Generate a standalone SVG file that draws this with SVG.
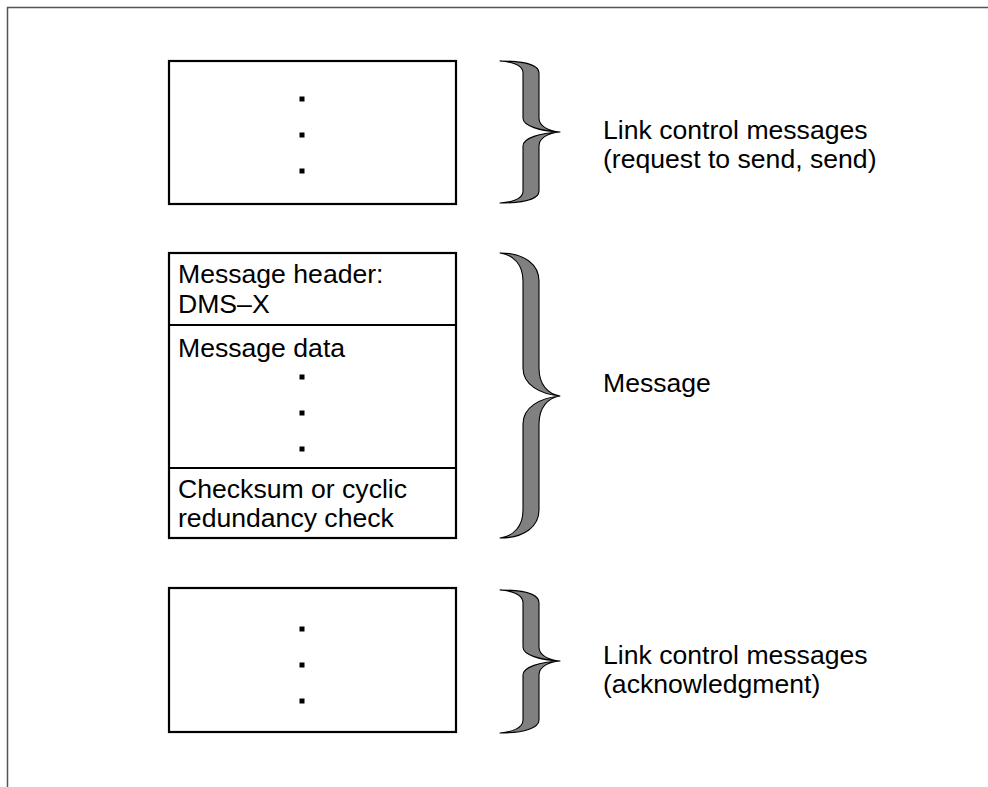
<svg xmlns="http://www.w3.org/2000/svg" width="988" height="787" viewBox="0 0 988 787">
<style>
.box{fill:#fff;stroke:#000;stroke-width:2.2}
.div{stroke:#000;stroke-width:2.2}
.dot{fill:#000}
.brace{fill:#808080;stroke:#000;stroke-width:1.1;stroke-linejoin:round}
.t{font-family:"Liberation Sans",Arial,sans-serif;font-size:26.6px;fill:#000}
.frame{fill:none;stroke:#555;stroke-width:1.5}
</style>
<rect width="988" height="787" fill="#fff"/>
<path class="frame" d="M7.5,787 L7.5,7.5 L988,7.5"/>
<g id="box-top">
<rect class="box" x="169" y="61" width="287" height="143"/>
<rect class="dot" x="299.5" y="96.5" width="5" height="5"/>
<rect class="dot" x="299.5" y="132.5" width="5" height="5"/>
<rect class="dot" x="299.5" y="168.5" width="5" height="5"/>
</g>
<g id="box-message">
<rect class="box" x="169" y="253" width="287" height="285"/>
<line class="div" x1="169" y1="325" x2="456" y2="325"/>
<line class="div" x1="169" y1="468" x2="456" y2="468"/>
<text class="t" x="178" y="283">Message header:</text>
<text class="t" x="178" y="313">DMS–X</text>
<text class="t" x="178" y="357">Message data</text>
<rect class="dot" x="299.5" y="374.5" width="5" height="5"/>
<rect class="dot" x="299.5" y="410.5" width="5" height="5"/>
<rect class="dot" x="299.5" y="446.5" width="5" height="5"/>
<text class="t" x="178" y="498">Checksum or cyclic</text>
<text class="t" x="178" y="527">redundancy check</text>
</g>
<g id="box-bottom">
<rect class="box" x="169" y="588" width="287" height="144"/>
<rect class="dot" x="299.5" y="626.5" width="5" height="5"/>
<rect class="dot" x="299.5" y="662.5" width="5" height="5"/>
<rect class="dot" x="299.5" y="698.5" width="5" height="5"/>
</g>
<g id="connectors">
<path class="brace" d="M500,61 C524,61 539,65 539,73 L539,118 C539,126 548,131 560,132 C548,133 539,138 539,146 L539,191 C539,199 524,203 500,203 C512,202 523,199 523,191 L523,146 C523,138 540,133 560,132 C540,131 523,126 523,118 L523,73 C523,65 512,62 500,61 Z"/>
<path class="brace" d="M500,253 C525,253 539,265 539,281 L539,368 C539,385 548,394 560,396 C548,398 539,407 539,424 L539,510 C539,526 525,538 500,538 C514,536 523,526 523,510 L523,424 C523,407 540,398 560,396 C540,394 523,385 523,368 L523,281 C523,265 514,255 500,253 Z"/>
<path class="brace" d="M500,590 C524,590 539,594 539,603 L539,647 C539,655 548,660 560,661 C548,662 539,667 539,675 L539,720 C539,728 524,733 500,733 C512,732 523,728 523,720 L523,675 C523,667 540,662 560,661 C540,660 523,655 523,647 L523,603 C523,594 512,591 500,590 Z"/>
</g>
<g id="label-top">
<text class="t" x="603" y="139">Link control messages</text>
<text class="t" x="603" y="168">(request to send, send)</text>
</g>
<g id="label-message">
<text class="t" x="603" y="392">Message</text>
</g>
<g id="label-bottom">
<text class="t" x="603" y="664">Link control messages</text>
<text class="t" x="603" y="693">(acknowledgment)</text>
</g>
</svg>
